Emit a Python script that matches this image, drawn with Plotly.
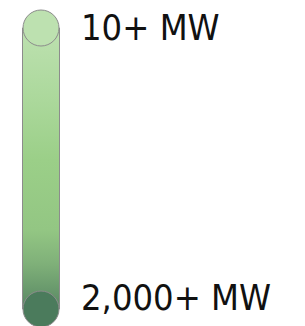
import plotly.graph_objects as go

# Legend data
labels = ["10+ MW", "2,000+ MW"]
capacity_mw = [10, 2000]
positions = [0, 1]  # top, bottom of the size scale
end_colors = ["#bde1b0", "#4b7b5c"]
# gradient from top (0) to bottom (1)
gradient_stops = [0.0, 0.26, 0.47, 0.72, 0.84, 0.97, 1.0]
gradient_colors = ["#bde1b0", "#abd89b", "#9bcf88", "#93c683", "#7fb079", "#5f8f67", "#5a8a64"]

W, H = 305, 326
xc, half = 41, 18.5

fig = go.Figure()

# gradient bar (fillgradient runs bottom->top on screen, so reverse the stops)
cs = sorted([[1 - s, c] for s, c in zip(gradient_stops, gradient_colors)], key=lambda t: t[0])
y0, y1 = positions[0], positions[-1]
fig.add_trace(go.Scatter(
    x=[xc - half, xc + half, xc + half, xc - half, xc - half],
    y=[y0, y0, y1, y1, y0],
    mode="lines",
    fill="toself",
    fillgradient=dict(type="vertical", colorscale=cs),
    line=dict(color="#8c8c8c", width=1),
    hoverinfo="skip", showlegend=False,
))

# end circles
fig.add_trace(go.Scatter(
    x=[xc, xc], y=positions, mode="markers",
    marker=dict(size=36, color=end_colors, line=dict(color="#8c8c8c", width=1)),
    text=labels, hoverinfo="text", showlegend=False,
))

for p, lab, ys in zip(positions, labels, [1, 12]):
    fig.add_annotation(x=79, y=p, text=lab, showarrow=False, xanchor="left",
                       yanchor="middle", yshift=ys,
                       font=dict(family="Liberation Sans Narrow, DejaVu Sans Condensed, Liberation Sans",
                                 size=36, color="#111111"))

span = 281.0
fig.update_layout(
    width=W, height=H, margin=dict(l=0, r=0, t=0, b=0),
    paper_bgcolor="white", plot_bgcolor="white",
    xaxis=dict(range=[0, W], visible=False, fixedrange=True),
    yaxis=dict(range=[1 + 17 / span, -28 / span], visible=False, fixedrange=True),
)

fig.write_html("out.html", config={"displayModeBar": False},
               post_script="document.body.style.margin='0';")
